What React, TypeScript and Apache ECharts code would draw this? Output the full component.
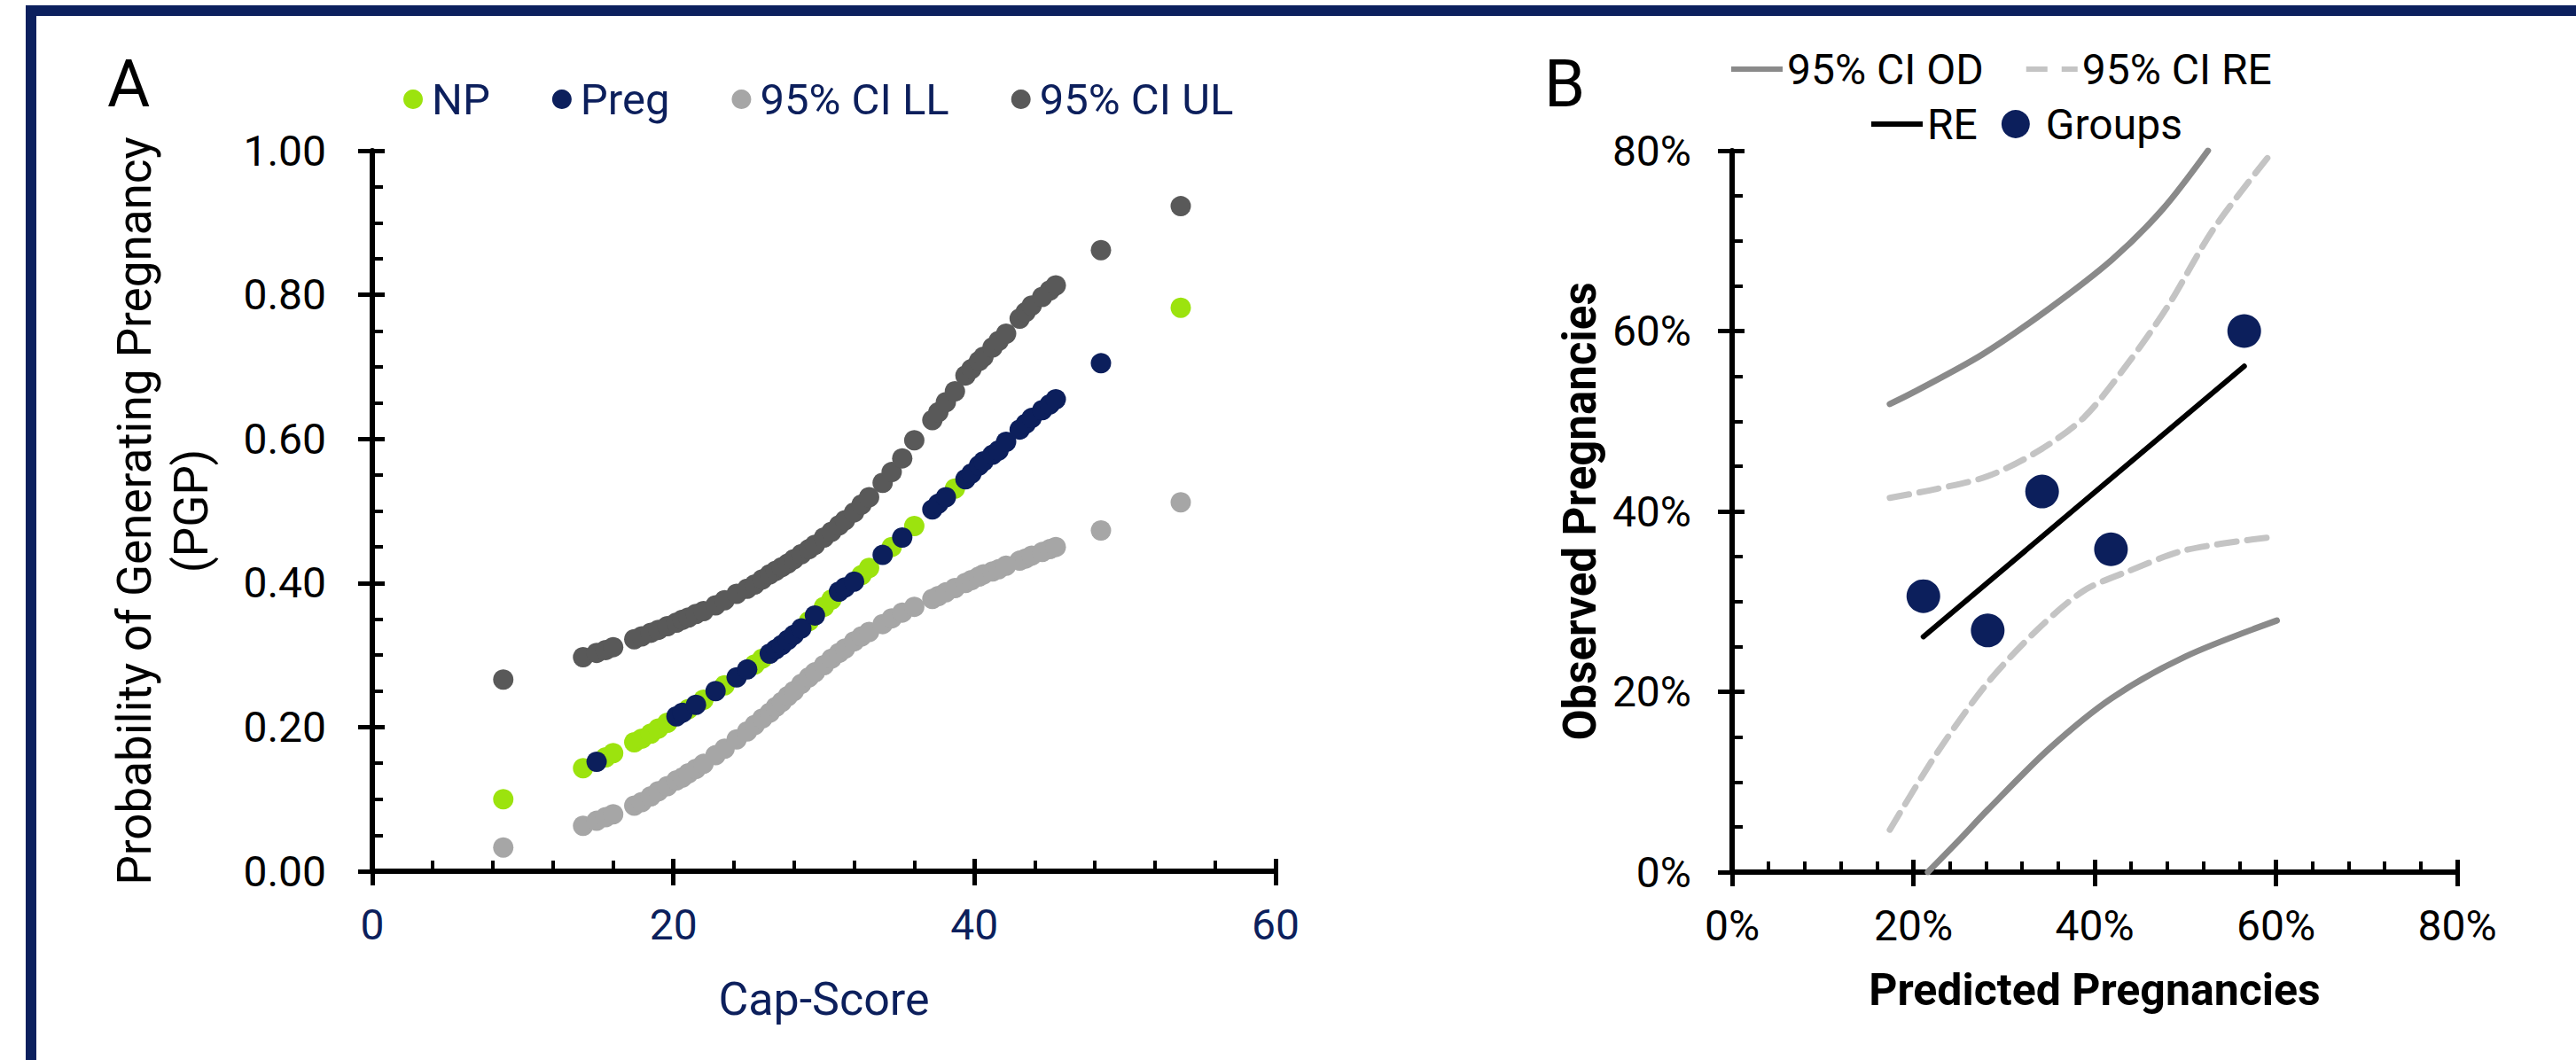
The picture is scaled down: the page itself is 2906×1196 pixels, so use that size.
import React, { useEffect, useRef } from "react";
import * as echarts from "echarts";

// ---------- Panel A data ----------
const npCap = [8.7, 14.0, 15.5, 16.0, 17.4, 17.9, 18.5, 19.0, 19.6, 21.0, 22.0, 23.4, 25.4, 25.9, 29.0, 30.0, 30.5, 32.5, 33.0, 34.5, 36.0, 38.7, 53.7];
const npPGP = [0.100, 0.143, 0.158, 0.164, 0.179, 0.184, 0.191, 0.198, 0.206, 0.225, 0.238, 0.258, 0.287, 0.295, 0.347, 0.367, 0.377, 0.411, 0.421, 0.450, 0.479, 0.531, 0.782];

const pregCap = [14.9, 20.2, 20.6, 21.5, 22.8, 24.2, 24.9, 26.4, 26.8, 27.2, 27.6, 28.0, 28.5, 29.4, 31.0, 31.4, 32.0, 33.9, 35.2, 37.2, 37.6, 38.1, 39.4, 39.8, 40.3, 40.6, 41.2, 41.6, 42.1, 43.0, 43.4, 43.8, 44.5, 45.0, 45.4, 48.4];
const pregPGP = [0.152, 0.215, 0.220, 0.231, 0.250, 0.269, 0.280, 0.302, 0.308, 0.314, 0.321, 0.328, 0.337, 0.355, 0.388, 0.394, 0.402, 0.439, 0.463, 0.502, 0.510, 0.519, 0.544, 0.552, 0.563, 0.569, 0.578, 0.584, 0.596, 0.613, 0.621, 0.629, 0.640, 0.648, 0.655, 0.705];

const ciCap = [8.7, 14.0, 14.9, 15.5, 16.0, 17.4, 17.9, 18.5, 19.0, 19.6, 20.2, 20.6, 21.0, 21.5, 22.0, 22.8, 23.4, 24.2, 24.9, 25.4, 25.9, 26.4, 26.8, 27.2, 27.6, 28.0, 28.5, 29.0, 29.4, 30.0, 30.5, 31.0, 31.4, 32.0, 32.5, 33.0, 33.9, 34.5, 35.2, 36.0, 37.2, 37.6, 38.1, 38.7, 39.4, 39.8, 40.3, 40.6, 41.2, 41.6, 42.1, 43.0, 43.4, 43.8, 44.5, 45.0, 45.4, 48.4, 53.7];
const ciLL = [0.033, 0.063, 0.070, 0.075, 0.079, 0.091, 0.096, 0.104, 0.111, 0.118, 0.126, 0.130, 0.136, 0.142, 0.149, 0.161, 0.170, 0.183, 0.194, 0.203, 0.212, 0.220, 0.228, 0.235, 0.243, 0.250, 0.260, 0.269, 0.276, 0.286, 0.295, 0.303, 0.309, 0.319, 0.326, 0.332, 0.343, 0.351, 0.359, 0.367, 0.378, 0.382, 0.387, 0.393, 0.400, 0.404, 0.409, 0.412, 0.416, 0.419, 0.424, 0.431, 0.434, 0.438, 0.443, 0.447, 0.450, 0.473, 0.512];
const ciUL = [0.266, 0.297, 0.303, 0.307, 0.311, 0.322, 0.326, 0.331, 0.335, 0.340, 0.345, 0.349, 0.352, 0.357, 0.361, 0.369, 0.376, 0.385, 0.392, 0.398, 0.405, 0.412, 0.417, 0.422, 0.427, 0.433, 0.440, 0.447, 0.453, 0.463, 0.471, 0.480, 0.487, 0.498, 0.509, 0.519, 0.539, 0.554, 0.573, 0.598, 0.626, 0.637, 0.651, 0.666, 0.688, 0.697, 0.708, 0.714, 0.727, 0.736, 0.746, 0.767, 0.776, 0.785, 0.797, 0.806, 0.813, 0.862, 0.923];

const legendA = ["NP", "Preg", "95% CI LL", "95% CI UL"];

// ---------- Panel B data ----------
const groupPred = [21.1, 28.2, 34.2, 41.8, 56.5];
const groupObs = [30.6, 26.8, 42.2, 35.8, 60.0];

const rePred = [21.1, 56.5];
const reObs = [26.1, 56.1];

const odUpPred = [17.4, 20.0, 27.6, 35.0, 41.9, 47.5, 52.5];
const odUpObs = [51.9, 53.2, 57.4, 62.5, 67.9, 73.5, 80.0];
const odLoPred = [21.6, 25.0, 28.2, 35.0, 41.9, 50.0, 60.1];
const odLoObs = [0.0, 3.5, 6.9, 13.7, 19.3, 23.9, 27.9];

const reUpPred = [17.4, 22.6, 28.2, 33.8, 38.8, 43.8, 48.1, 53.1, 59.7];
const reUpObs = [41.5, 42.5, 43.9, 46.7, 50.4, 56.6, 62.8, 71.3, 80.0];
const reLoPred = [17.4, 22.6, 28.2, 33.8, 38.8, 43.8, 50.0, 59.1];
const reLoObs = [4.7, 13.2, 21.0, 27.0, 31.2, 33.4, 35.7, 37.1];

const legendB1 = ["95% CI OD", "95% CI RE"];
const legendB2 = ["RE", "Groups"];

// ---------- styles ----------
const FONT = "Roboto";
const NAVY = "#0c1f5c";
const FRAME = "#0c205e";
const GREEN = "#9ce30e";
const LIGHT = "#a6a6a6";
const DARK = "#595959";
const OD = "#8a8a8a";
const RECI = "#c4c4c4";

const SOLID_ICON = "path://M0,0H58V6H0Z";
const DASH_ICON = "path://M0,0H24V6H0Z M40,0H58V6H40Z";

const zip = (a: number[], b: number[]) => a.map((v, i) => [v, b[i]]);

function mainAxis(grid: number, min: number, max: number, interval: number, minorSplit: number, labelColor: string, fmt: (v: number) => string, margin: number) {
  return {
    type: "value",
    gridIndex: grid,
    min,
    max,
    interval,
    axisLine: { show: true, onZero: false, lineStyle: { color: "#000", width: 6 } },
    axisTick: { show: true, inside: true, length: 14, lineStyle: { color: "#000", width: 5 } },
    minorTick: { show: true, splitNumber: minorSplit, length: 12, lineStyle: { color: "#000", width: 4 } },
    splitLine: { show: false },
    minorSplitLine: { show: false },
    axisLabel: { color: labelColor, fontSize: 48, fontFamily: FONT, margin, formatter: fmt },
  };
}

function outerTickAxis(grid: number, min: number, max: number, interval: number, position: string) {
  return {
    type: "value",
    gridIndex: grid,
    min,
    max,
    interval,
    position,
    axisLine: { show: false, onZero: false },
    axisTick: { show: true, inside: false, length: 16, lineStyle: { color: "#000", width: 5 } },
    minorTick: { show: false },
    splitLine: { show: false },
    axisLabel: { show: false },
  };
}

export default function App() {
  const ref = useRef<HTMLDivElement>(null);
  useEffect(() => {
    document.body.style.margin = "0";
    const chart = echarts.init(ref.current!, null, { renderer: "svg" });

    const xA = {
      ...mainAxis(0, 0, 60, 20, 5, NAVY, (v: number) => String(v), 36),
      position: "bottom",
      name: "Cap-Score",
      nameLocation: "middle",
      nameGap: 118,
      nameTextStyle: { color: NAVY, fontSize: 52, fontFamily: FONT },
    };
    const yA = {
      ...mainAxis(0, 0, 1, 0.2, 4, "#000", (v: number) => v.toFixed(2), 52),
      position: "left",
      name: "Probability of Generating Pregnancy\n(PGP)",
      nameLocation: "middle",
      nameGap: 172,
      nameTextStyle: { color: "#000", fontSize: 53, lineHeight: 64, fontFamily: FONT, align: "center" },
    };
    const xB = {
      ...mainAxis(1, 0, 80, 20, 5, "#000", (v: number) => v + "%", 36),
      position: "bottom",
      name: "Predicted Pregnancies",
      nameLocation: "middle",
      nameGap: 108,
      nameTextStyle: { color: "#000", fontSize: 50, fontWeight: "bold", fontFamily: FONT },
    };
    const yB = {
      ...mainAxis(1, 0, 80, 20, 4, "#000", (v: number) => v + "%", 46),
      position: "left",
      name: "Observed Pregnancies",
      nameLocation: "middle",
      nameGap: 146,
      nameTextStyle: { color: "#000", fontSize: 51, fontWeight: "bold", fontFamily: FONT },
    };

    const lineSeries = (name: string, xs: number[], ys: number[], color: string, width: number, type: any) => ({
      name,
      type: "line",
      xAxisIndex: 2,
      yAxisIndex: 2,
      data: zip(xs, ys),
      symbol: "none",
      showSymbol: false,
      smooth: 0.3,
      lineStyle: { color, width, type, cap: "round" },
      itemStyle: { color },
      z: 3,
    });

    const option: any = {
      animation: false,
      backgroundColor: "#fff",
      textStyle: { fontFamily: FONT },
      grid: [
        { left: 420, top: 170, width: 1019, height: 813 },
        { left: 1954, top: 170, width: 818, height: 814 },
      ],
      xAxis: [xA, outerTickAxis(0, 0, 60, 20, "bottom"), xB, outerTickAxis(1, 0, 80, 20, "bottom")],
      yAxis: [yA, outerTickAxis(0, 0, 1, 0.2, "left"), yB, outerTickAxis(1, 0, 80, 20, "left")],
      legend: [
        {
          data: legendA,
          left: 455,
          top: 84,
          padding: 0,
          icon: "circle",
          itemWidth: 32,
          itemHeight: 22,
          itemGap: 70,
          selectedMode: false,
          textStyle: { color: NAVY, fontSize: 49, lineHeight: 56, fontFamily: FONT },
        },
        {
          data: [
            { name: legendB1[0], icon: SOLID_ICON },
            { name: legendB1[1], icon: DASH_ICON },
          ],
          left: 1953,
          top: 50,
          padding: 0,
          itemWidth: 58,
          itemHeight: 14,
          itemGap: 48,
          selectedMode: false,
          textStyle: { color: "#000", fontSize: 48, lineHeight: 56, fontFamily: FONT },
        },
        {
          data: [
            { name: legendB2[0], icon: SOLID_ICON },
            { name: legendB2[1], icon: "circle" },
          ],
          left: 2111,
          top: 112,
          padding: 0,
          itemWidth: 58,
          itemHeight: 32,
          itemGap: 27,
          selectedMode: false,
          textStyle: { color: "#000", fontSize: 48, lineHeight: 56, fontFamily: FONT },
        },
      ],
      graphic: [
        { type: "rect", shape: { x: 29, y: 6, width: 2877, height: 12 }, style: { fill: FRAME }, z: 10 },
        { type: "rect", shape: { x: 29, y: 6, width: 12, height: 1190 }, style: { fill: FRAME }, z: 10 },
        { type: "text", x: 121, y: 94, style: { text: "A", fontSize: 74, fontFamily: FONT, fill: "#000", verticalAlign: "middle" } },
        { type: "text", x: 1742, y: 94, style: { text: "B", fontSize: 74, fontFamily: FONT, fill: "#000", verticalAlign: "middle" } },
      ],
      series: [
        { name: "NP", type: "scatter", xAxisIndex: 0, yAxisIndex: 0, data: zip(npCap, npPGP), symbolSize: 23, itemStyle: { color: GREEN, opacity: 1 }, z: 2 },
        { name: "Preg", type: "scatter", xAxisIndex: 0, yAxisIndex: 0, data: zip(pregCap, pregPGP), symbolSize: 23, itemStyle: { color: NAVY, opacity: 1 }, z: 3 },
        { name: "95% CI LL", type: "scatter", xAxisIndex: 0, yAxisIndex: 0, data: zip(ciCap, ciLL), symbolSize: 23, itemStyle: { color: LIGHT, opacity: 1 }, z: 2 },
        { name: "95% CI UL", type: "scatter", xAxisIndex: 0, yAxisIndex: 0, data: zip(ciCap, ciUL), symbolSize: 23, itemStyle: { color: DARK, opacity: 1 }, z: 2 },
        lineSeries("95% CI OD", odUpPred, odUpObs, OD, 7, "solid"),
        lineSeries("95% CI OD", odLoPred, odLoObs, OD, 7, "solid"),
        lineSeries("95% CI RE", reUpPred, reUpObs, RECI, 7, [22, 12]),
        lineSeries("95% CI RE", reLoPred, reLoObs, RECI, 7, [22, 12]),
        { ...lineSeries("RE", rePred, reObs, "#000", 6, "solid"), smooth: false },
        { name: "Groups", type: "scatter", xAxisIndex: 2, yAxisIndex: 2, data: zip(groupPred, groupObs), symbolSize: 38, itemStyle: { color: NAVY, opacity: 1 }, z: 4 },
      ],
    };
    chart.setOption(option);
    return () => chart.dispose();
  }, []);
  return <div ref={ref} style={{ width: 2906, height: 1196 }} />;
}
